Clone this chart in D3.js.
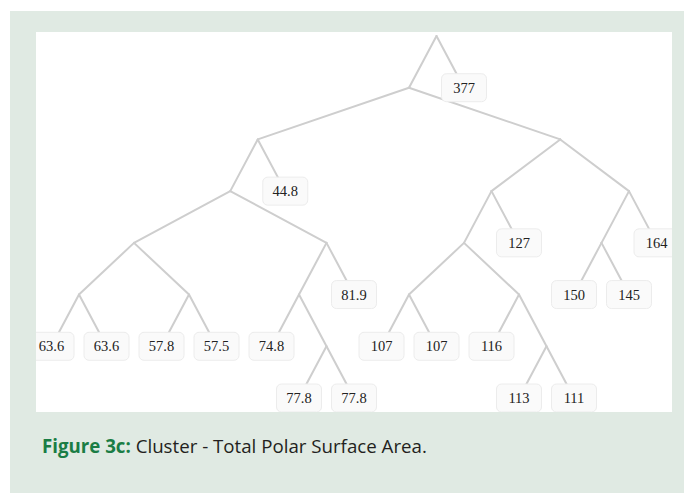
<!DOCTYPE html>
<html>
<head>
<meta charset="utf-8">
<script src="https://cdn.jsdelivr.net/npm/d3@7"></script>
<style>
  body { margin: 0; background: #fff; }
  svg { display: block; }
</style>
</head>
<body>
<div id="chart"></div>
<script>
// Dendrogram of total polar surface area (Figure 3c)
// Each junction has two children; value boxes are the leaves.

// node ids, listed left to right inside each parent
var nodeIds = ["n0", "n1", "v377", "n2", "n3", "n4", "v44.8", "n5", "n6",
  "n7", "n8", "v63.6a", "v63.6b", "v57.8", "v57.5", "n9", "v81.9", "v74.8", "n10",
  "v77.8a", "v77.8b", "n11", "n12", "n13", "v127", "n14", "n15", "v107a", "v107b",
  "v116", "n16", "v113", "v111", "n17", "v164", "v150", "v145"];

var parentIds = ["", "n0", "n0", "n1", "n1", "n2", "n2", "n4", "n4",
  "n5", "n5", "n7", "n7", "n8", "n8", "n6", "n6", "n9", "n9",
  "n10", "n10", "n3", "n3", "n11", "n11", "n13", "n13", "n14", "n14",
  "n15", "n15", "n16", "n16", "n12", "n12", "n17", "n17"];

// printed values ("" = plain junction)
var labels = ["", "", "377", "", "", "", "44.8", "", "",
  "", "", "63.6", "63.6", "57.8", "57.5", "", "81.9", "74.8", "",
  "77.8", "77.8", "", "", "", "127", "", "", "107", "107",
  "116", "", "113", "111", "", "164", "150", "145"];

var captionLead = "Figure 3c:";
var captionText = " Cluster - Total Polar Surface Area.";

var width = 684, height = 493;
var panel = {x: 36, y: 32, w: 636, h: 380};

var svg = d3.select("#chart").append("svg")
    .attr("width", width)
    .attr("height", height);

// green frame + white plot panel
svg.append("rect")
    .attr("x", 10).attr("y", 11)
    .attr("width", width - 10).attr("height", height - 11)
    .attr("fill", "#e0eae3");

svg.append("rect")
    .attr("x", panel.x).attr("y", panel.y)
    .attr("width", panel.w).attr("height", panel.h)
    .attr("fill", "#ffffff");

svg.append("clipPath").attr("id", "panelClip")
  .append("rect")
    .attr("x", panel.x).attr("y", panel.y)
    .attr("width", panel.w).attr("height", panel.h);

// build hierarchy
var table = nodeIds.map(function (id, i) {
  return {id: id, parentId: parentIds[i] || null, label: labels[i]};
});

var root = d3.stratify()
    .id(function (d) { return d.id; })
    .parentId(function (d) { return d.parentId; })(table);

// tidy tree, one unit between any two neighbours
d3.tree().nodeSize([1, 1]).separation(function () { return 1; })(root);

var x = d3.scaleLinear().domain([0, 1]).range([436.5, 491.5]);
var y = d3.scaleLinear().domain([0, 7]).range([36, 398]);

var g = svg.append("g").attr("clip-path", "url(#panelClip)");

g.selectAll("line.link")
    .data(root.links())
    .enter().append("line")
    .attr("class", "link")
    .attr("x1", function (d) { return x(d.source.x); })
    .attr("y1", function (d) { return y(d.source.depth); })
    .attr("x2", function (d) { return x(d.target.x); })
    .attr("y2", function (d) { return y(d.target.depth); })
    .attr("stroke", "#cecece")
    .attr("stroke-width", 2)
    .attr("stroke-linecap", "round");

var boxW = 45, boxH = 28;

var leaf = g.selectAll("g.leaf")
    .data(root.leaves())
    .enter().append("g")
    .attr("class", "leaf")
    .attr("transform", function (d) {
      return "translate(" + x(d.x) + "," + y(d.depth) + ")";
    });

leaf.append("rect")
    .attr("x", -boxW / 2)
    .attr("y", -boxH / 2)
    .attr("width", boxW)
    .attr("height", boxH)
    .attr("rx", 5)
    .attr("fill", "#fafafa")
    .attr("stroke", "#ececec")
    .attr("stroke-width", 1);

leaf.append("text")
    .attr("text-anchor", "middle")
    .attr("dy", "0.35em")
    .attr("font-family", "'Liberation Serif', serif")
    .attr("font-size", 14.5)
    .attr("fill", "#222")
    .text(function (d) { return d.data.label; });

// caption
var cap = svg.append("text")
    .attr("x", 42)
    .attr("y", 453)
    .attr("font-family", "'Open Sans', sans-serif")
    .attr("font-size", 18.7);

cap.append("tspan")
    .attr("font-weight", "bold")
    .attr("fill", "#1a7d45")
    .text(captionLead);

cap.append("tspan")
    .attr("fill", "#231f20")
    .text(captionText);
</script>
</body>
</html>
